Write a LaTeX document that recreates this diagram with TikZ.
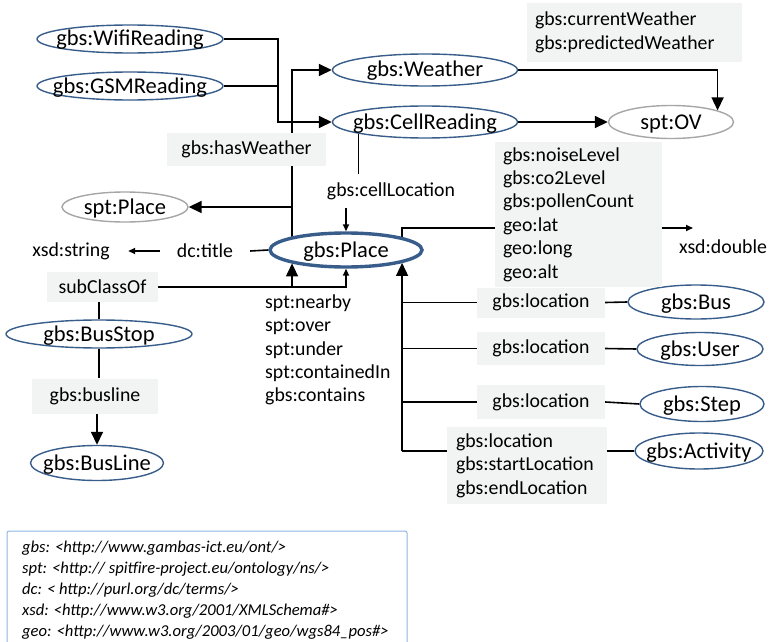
\documentclass[tikz,border=0pt]{standalone}
\usepackage{fontspec}
\setmainfont{Carlito}
\usetikzlibrary{shapes.geometric,arrows.meta,backgrounds}
\definecolor{eblue}{HTML}{385D8A}
\definecolor{egray}{HTML}{A6A6A6}
\definecolor{lfill}{HTML}{F2F3F3}
\definecolor{legb}{HTML}{8EB4E3}
\begin{document}
\begin{tikzpicture}[x=1pt,y=-1pt,
  ell/.style={ellipse,draw=eblue,line width=1.4pt,fill=white,inner sep=0pt,
    font=\fontsize{22.5}{26}\selectfont,text height=14pt,text depth=0pt,
    execute at begin node={\hbox to 0pt\bgroup\hss},
    execute at end node={\hss\egroup}},
  gell/.style={ell,draw=egray},
  lbl/.style={fill=lfill,inner sep=0pt,font=\fontsize{19.8}{23.4}\selectfont},
  mlbl/.style={fill=lfill,inner ysep=0pt,align=left,font=\fontsize{19.8}{23.4}\selectfont},
  txt/.style={inner sep=0pt,font=\fontsize{19.8}{23.4}\selectfont},
  con/.style={line width=1.6pt},
  big/.style={con,-{Triangle[length=13pt,width=12pt]}},
  sml/.style={con,-{Triangle[length=7pt,width=6pt]}}]
\useasboundingbox (0,0) rectangle (769,642);

% ellipses
\node[ell,minimum width=186pt,minimum height=28pt] (wifi) at (130,39) {gbs:WifiReading};
\node[ell,minimum width=186pt,minimum height=28pt] (gsm) at (130,86) {gbs:GSMReading};
\node[ell,minimum width=185pt,minimum height=32pt] (weather) at (425,70) {gbs:Weather};
\node[ell,minimum width=185pt,minimum height=32pt] (cell) at (425,122) {gbs:CellReading};
\node[gell,minimum width=125pt,minimum height=33pt] (ov) at (671,122) {spt:OV};
\node[gell,minimum width=126pt,minimum height=30pt] (splace) at (125,207) {spt:Place};
\node[ell,line width=3.4pt,minimum width=152pt,minimum height=34pt] (place) at (346,250) {gbs:Place};
\node[ell,minimum width=186pt,minimum height=28pt] (busstop) at (99,334) {gbs:BusStop};
\node[ell,minimum width=133pt,minimum height=35pt] (busline) at (97,463) {gbs:BusLine};
\node[ell,minimum width=136pt,minimum height=34pt] (bus) at (696,302) {gbs:Bus};
\node[ell,minimum width=126pt,minimum height=33pt] (user) at (700,349) {gbs:User};
\node[ell,minimum width=124pt,minimum height=35pt] (step) at (702,404) {gbs:Step};
\node[ell,minimum width=128pt,minimum height=36pt] (act) at (699,451) {gbs:Activity};

% grey label boxes
\node[lbl,minimum width=159pt,minimum height=33pt] (hw) at (246.5,149.5) {gbs:hasWeather};
\node[mlbl,inner xsep=8pt,text width=199pt,minimum height=59pt] (cw) at (634.5,32.5) {gbs:currentWeather\\gbs:predictedWeather};
\node[mlbl,inner xsep=8pt,text width=151pt,minimum height=145pt] (pr) at (578.5,214.5) {gbs:noiseLevel\\gbs:co2Level\\gbs:pollenCount\\geo:lat\\geo:long\\geo:alt};
\node[lbl,minimum width=111pt,minimum height=30pt] (sc) at (102.5,287) {subClassOf};
\node[lbl,minimum width=126pt,minimum height=35pt] (bl) at (95,396) {gbs:busline};
\node[lbl,minimum width=128pt,minimum height=30pt] (loc1) at (541,302.5) {gbs:location};
\node[lbl,minimum width=128pt,minimum height=33pt] (loc2) at (541,348.5) {gbs:location};
\node[lbl,minimum width=128pt,minimum height=34pt] (loc3) at (541,402) {gbs:location};
\node[mlbl,inner xsep=9pt,text width=142pt,minimum height=77pt] (loc4) at (527,465.5) {gbs:location\\gbs:startLocation\\gbs:endLocation};

% plain texts
\node[txt,minimum height=34pt] (cl) at (391,191) {gbs:cellLocation};
\node[txt,minimum width=90pt] (dt) at (205,251) {dc:title};
\node[txt,minimum width=114pt] (xs) at (71,251) {xsd:string};
\node[txt] (xd) at (723,247) {xsd:double};
\coordinate (xdarr) at (693,228);
\coordinate (jx) at (278,0);
\node[txt,anchor=west,align=left] (nb) at (265,350) {spt:nearby\\spt:over\\spt:under\\spt:containedIn\\gbs:contains};

% legend
\node[anchor=north west,align=left,inner sep=0pt,font=\fontsize{16.6}{21}\selectfont\itshape] (leg) at (22,541)
 {gbs: <http://www.gambas-ict.eu/ont/>\\
  spt: <http:// spitfire-project.eu/ontology/ns/>\\
  dc: < http://purl.org/dc/terms/>\\
  xsd: <http://www.w3.org/2001/XMLSchema\#>\\
  geo: <http://www.w3.org/2003/01/geo/wgs84\_pos\#>};
\draw[legb,line width=1pt,rounded corners=2pt] (7,660) -- (7,531) -- (407,531) -- (407,660);

\begin{scope}[on background layer]
\draw[big] (wifi.east) -| (cell.west -| jx) -- (cell.west);
\draw[con] (gsm.east) -- (gsm.east -| jx);
\draw[big] (place.166) |- (weather.west);
\draw[big] (place.166 |- splace.east) -- (splace.east);
\draw[big] (cell.east) -- (ov.west);
\draw[big] (weather.east) -| (ov.14);
\draw[con] (cell.190) -- (cell.190 |- cl.north);
\draw[sml] (cl.south -| place.north) -- (place.north);
\draw[con] (place.west) -- (dt.east);
\draw[sml] (dt.west) -- (xs.east);
\draw[big] (sc.east) -| (place.194);
\draw[sml] (place.194 |- sc.east) -| (place.south);
\draw[con] (busstop.north) -- (busstop.north |- sc.south);
\draw[con] (busstop.south) -- (busstop.south |- bl.north);
\draw[big] (busline.north |- bl.south) -- (busline.north);
\draw[con] (place.13) |- (pr.west |- xdarr);
\draw[sml] (pr.east |- xdarr) -- (xdarr);
\draw[big] (place.347 |- act.west) -- (place.347);
\draw[con] (place.347 |- loc1.west) -- (loc1.west);
\draw[con] (place.347 |- loc2.west) -- (loc2.west);
\draw[con] (place.347 |- loc3.west) -- (loc3.west);
\draw[con] (place.347 |- act.west) -- (loc4.west |- act.west);
\draw[con] (loc1.east) -- (bus.west);
\draw[con] (loc2.east) -- (user.west);
\draw[con] (loc3.east) -- (step.west);
\draw[con] (loc4.east |- act.west) -- (act.west);
\end{scope}
\end{tikzpicture}
\end{document}
